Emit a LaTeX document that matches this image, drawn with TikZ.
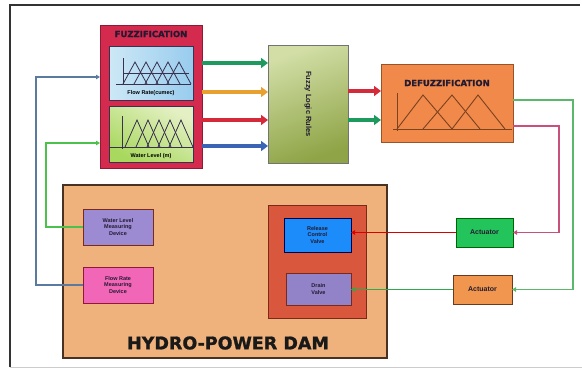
\documentclass[tikz,border=0pt]{standalone}
\usepackage{fontspec}
\setmainfont{Liberation Sans}
\newfontfamily\heavy[BoldFeatures={FakeBold=1.2}]{DejaVu Sans}
\usetikzlibrary{arrows.meta,calc}
\definecolor{fuzzred}{HTML}{D42A4E}
\definecolor{fuzzredd}{HTML}{8E1A36}
\definecolor{defor}{HTML}{F0894A}
\definecolor{deford}{HTML}{9A5228}
\definecolor{damfill}{HTML}{F0B27C}
\definecolor{damedge}{HTML}{4A3222}
\definecolor{valvebg}{HTML}{D9573C}
\definecolor{valveedge}{HTML}{7A2A1A}
\definecolor{relblue}{HTML}{1C8CFA}
\definecolor{drainpur}{HTML}{9282C8}
\definecolor{wlpur}{HTML}{9C8AD2}
\definecolor{frpink}{HTML}{F266B8}
\definecolor{actgreen}{HTML}{24C45C}
\definecolor{actorange}{HTML}{F0964E}
\definecolor{arrgreen}{HTML}{1E9A5E}
\definecolor{arrorange}{HTML}{E8A030}
\definecolor{arrred}{HTML}{D42A3A}
\definecolor{arrblue}{HTML}{3C64B4}
\definecolor{fbred}{HTML}{C8507A}
\definecolor{fbgreen}{HTML}{5AB86A}
\definecolor{lblue}{HTML}{5A7AA0}
\definecolor{lgreen}{HTML}{4CC24C}
\definecolor{mfdark}{HTML}{3A3050}
\definecolor{txtdark}{HTML}{221A30}
\definecolor{skyA}{HTML}{CDE8F6}
\definecolor{skyB}{HTML}{98CCEE}
\definecolor{limeA}{HTML}{A8D85E}
\definecolor{limeB}{HTML}{E4F0C4}
\definecolor{oliveA}{HTML}{D2DEA6}
\definecolor{oliveB}{HTML}{8EA446}
\definecolor{drgreen}{HTML}{2EAA4A}
\begin{document}
\begin{tikzpicture}[x=1pt,y=-1pt,
  box/.style={draw, inner sep=0pt, outer sep=0pt, align=center, line width=1pt, text=txtdark},
  small/.style={font=\fontsize{5.5}{6.5}\selectfont\bfseries},
  fat/.style={line width=4.5pt, -{Triangle[length=7pt,width=10pt]}},
  fb/.style={line width=1.2pt, -{Triangle[length=4pt,width=4.5pt]}},
  mf/.style={line width=0.8pt, draw=mfdark},
  dmf/.style={line width=0.9pt, draw=deford!80!black},
  heading/.style={font=\heavy\fontsize{8.5}{9}\selectfont\bfseries, text=txtdark, inner sep=0pt}]
\useasboundingbox (0,0) rectangle (582,378);
% frame
\draw[line width=1.2pt, draw=black!80] (10,367) -- (10,5) -- (580,5);
\draw[line width=0.8pt, draw=black!20] (10,367) -- (582,367);

% fuzzification block
\node[box, fill=fuzzred, draw=fuzzredd, minimum width=102pt, minimum height=143pt] (fuzz) at (151,96.5) {};
\node[heading] (fuzztitle) at (151,34) {FUZZIFICATION};
\node[box, draw=mfdark, left color=skyA, right color=skyB, minimum width=84pt, minimum height=54pt] (flowmf) at (151,73) {};
\node[box, draw=mfdark, bottom color=limeA, top color=limeB, shading angle=-30, minimum width=84pt, minimum height=56pt] (levelmf) at (151,134) {};
% membership functions (flow)
\draw[mf] (123,58) -- (123,85);
\draw[mf] (116,84) -- (191,84);
\foreach \p in {135,146,157,168,179}{\draw[mf] (\p-12,84) -- (\p,62) -- (\p+12,84);}
\draw[mf] (123,73) -- (189,73);
\node[small, inner sep=0pt] (flowlbl) at (151,93) {Flow Rate(cumec)};
% membership functions (level)
\draw[mf] (122,116) -- (122,149);
\draw[mf] (109,147) -- (193,147);
\foreach \p in {137,148,159,170,181}{\draw[mf] (\p-12,147) -- (\p,120) -- (\p+12,147);}
\node[small, inner sep=0pt] (levellbl) at (151,156) {Water Level (m)};

% rules
\node[box, draw=black!55, top color=oliveA, bottom color=oliveB, shading angle=20, minimum width=80pt, minimum height=118pt, font=\fontsize{7.5}{8}\selectfont\bfseries] (rules) at (308,104) {\rotatebox{-90}{Fuzzy Logic Rules}};

% defuzzification
\node[box, fill=defor, draw=deford, minimum width=132pt, minimum height=78pt] (defuzz) at (447,103) {};
\node[heading] (deftitle) at (447,83) {DEFUZZIFICATION};
\draw[dmf] (397,93) -- (397,131);
\draw[dmf] (393,129) -- (512,129);
\draw[dmf] (397,129) -- (423,95) -- (452,129);
\draw[dmf] (423,129) -- (452,95) -- (480,129);
\draw[dmf] (452,129) -- (478,95) -- (505,129);

% thick arrows fuzz -> rules
\draw[fat, arrgreen]  (fuzz.east |- 0,63)  -- (rules.west |- 0,63);
\draw[fat, arrorange] (fuzz.east |- 0,92)  -- (rules.west |- 0,92);
\draw[fat, arrred]    (fuzz.east |- 0,120) -- (rules.west |- 0,120);
\draw[fat, arrblue]   (fuzz.east |- 0,146) -- (rules.west |- 0,146);
% rules -> defuzz
\draw[fat, arrred]   (rules.east |- 0,91)  -- (defuzz.west |- 0,91);
\draw[fat, arrgreen] (rules.east |- 0,120) -- (defuzz.west |- 0,120);

% dam
\node[box, fill=damfill, draw=damedge, line width=1.3pt, minimum width=324pt, minimum height=173pt] (dam) at (225,271.5) {};
\node[font=\heavy\fontsize{17.5}{18}\selectfont\bfseries, text=black!90, inner sep=0pt] (damlbl) at (228,343) {HYDRO-POWER DAM};
\node[box, fill=valvebg, draw=valveedge, minimum width=98pt, minimum height=113pt] (valves) at (317,261.5) {};
\node[box, small, fill=relblue, draw=blue!30!black, minimum width=67pt, minimum height=34pt] (release) at (317.5,235) {Release\\Control\\Valve};
\node[box, small, fill=drainpur, draw=valveedge, minimum width=65pt, minimum height=32pt] (drain) at (318.5,289) {Drain\\Valve};
\node[box, small, fill=wlpur, draw=valveedge, minimum width=70pt, minimum height=36pt] (wlmd) at (118,227) {Water Level\\Measuring\\Device};
\node[box, small, fill=frpink, draw=fuzzredd, minimum width=70pt, minimum height=36pt] (frmd) at (118,285) {Flow Rate\\Measuring\\Device};

% actuators
\node[box, fill=actgreen, draw=green!40!black, minimum width=57pt, minimum height=29pt, font=\fontsize{7}{8}\selectfont\bfseries] (act1) at (484.5,232.5) {Actuator};
\node[box, fill=actorange, draw=deford!70!black, minimum width=59pt, minimum height=29pt, font=\fontsize{7}{8}\selectfont\bfseries] (act2) at (482.5,289.5) {Actuator};

% feedback lines
\coordinate (g1) at (573,100);
\coordinate (r1) at (559,126);
\draw[fb, fbgreen] (defuzz.east |- g1) -- (g1) |- (act2.east);
\draw[fb, fbred]   (defuzz.east |- r1) -- (r1) |- (act1.east);
\draw[fb, red!85!black] (act1.west) -- (release.east |- act1.west);
\draw[fb, drgreen] (act2.west) -- (drain.east |- act2.west);

% sensor lines
\coordinate (b1) at (36,77);
\coordinate (gg1) at (46,143);
\draw[fb, lblue]  (frmd.west) -| (b1) -- (fuzz.west |- b1);
\draw[fb, lgreen] (wlmd.west) -| (gg1) -- (fuzz.west |- gg1);
\end{tikzpicture}
\end{document}
